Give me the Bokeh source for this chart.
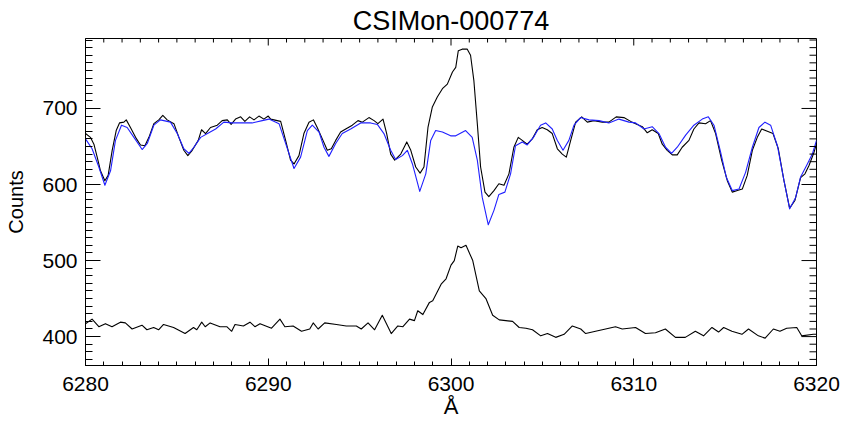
from bokeh.plotting import figure
from bokeh.models import FixedTicker, Range1d
from bokeh.embed import file_html
from bokeh.resources import INLINE

# ---- data ----
obs_wl = [6280.00, 6280.27, 6280.46, 6280.64, 6280.82, 6281.06, 6281.24, 6281.46, 6281.68, 6281.86,
          6282.10, 6282.23, 6282.46, 6282.74, 6283.01, 6283.25, 6283.47, 6283.74, 6284.01, 6284.23,
          6284.47, 6284.84, 6285.11, 6285.38, 6285.60, 6285.84, 6286.17, 6286.35, 6286.57, 6286.84,
          6287.21, 6287.48, 6287.76, 6287.97, 6288.21, 6288.49, 6288.72, 6288.98, 6289.22, 6289.49,
          6289.76, 6290.00, 6290.13, 6290.49, 6290.68, 6290.95, 6291.22, 6291.41, 6291.68, 6291.95,
          6292.23, 6292.47, 6292.68, 6292.96, 6293.23, 6293.45, 6293.69, 6293.96, 6294.24, 6294.60,
          6294.91, 6295.15, 6295.51, 6295.79, 6296.00, 6296.28, 6296.48, 6296.70, 6296.92, 6297.25,
          6297.58, 6297.80, 6298.07, 6298.31, 6298.52, 6298.74, 6298.98, 6299.25, 6299.53, 6299.80,
          6300.08, 6300.26, 6300.40, 6300.61, 6300.89, 6301.07, 6301.25, 6301.44, 6301.62, 6301.86,
          6302.07, 6302.35, 6302.62, 6302.90, 6303.17, 6303.44, 6303.68, 6303.90, 6304.17, 6304.45,
          6304.72, 6304.99, 6305.27, 6305.54, 6305.82, 6306.09, 6306.31, 6306.55, 6306.82, 6307.15,
          6307.46, 6307.82, 6308.28, 6308.64, 6309.04, 6309.46, 6309.83, 6310.10, 6310.47, 6310.74,
          6311.01, 6311.34, 6311.56, 6311.83, 6312.11, 6312.38, 6312.65, 6313.02, 6313.29, 6313.57,
          6313.93, 6314.20, 6314.48, 6314.81, 6315.12, 6315.39, 6315.67, 6315.94, 6316.21, 6316.49,
          6316.76, 6317.00, 6317.31, 6317.62, 6317.91, 6318.22, 6318.53, 6318.82, 6319.13, 6319.37,
          6319.59, 6319.86, 6320.00]
obs_counts = [667, 662, 653, 636, 618, 605, 612, 645, 671, 681,
              682, 685, 675, 662, 652, 651, 662, 680, 685, 691,
              685, 680, 662, 645, 638, 645, 658, 672, 667, 675,
              678, 684, 685, 679, 686, 689, 683, 689, 685, 690,
              686, 690, 686, 684, 683, 658, 632, 627, 638, 667,
              682, 685, 675, 660, 645, 647, 658, 669, 673, 678,
              684, 682, 688, 684, 680, 686, 667, 640, 632, 640,
              656, 645, 623, 615, 623, 675, 702, 715, 726, 732,
              748, 754, 776, 778, 778, 770, 737, 680, 623, 590,
              584, 592, 601, 599, 614, 649, 662, 658, 653, 660,
              672, 675, 672, 667, 647, 640, 636, 658, 682, 689,
              682, 684, 682, 682, 689, 688, 683, 680, 676, 668,
              672, 667, 653, 645, 639, 639, 649, 658, 673, 681,
              680, 684, 667, 632, 605, 590, 592, 594, 612, 645,
              662, 673, 670, 667, 647, 605, 569, 579, 609, 614,
              625, 642, 654]

model_wl = [6280.00, 6280.36, 6280.73, 6281.06, 6281.37, 6281.64, 6281.97, 6282.28, 6282.65, 6283.10,
            6283.38, 6283.74, 6284.10, 6284.65, 6285.02, 6285.38, 6285.66, 6285.93, 6286.30, 6286.75,
            6287.12, 6287.57, 6288.03, 6288.58, 6289.12, 6289.67, 6290.04, 6290.59, 6290.95, 6291.41,
            6291.77, 6292.14, 6292.41, 6292.78, 6293.05, 6293.32, 6293.69, 6294.05, 6294.51, 6295.06,
            6295.60, 6295.97, 6296.33, 6296.70, 6296.97, 6297.34, 6297.61, 6297.89, 6298.29, 6298.62,
            6298.89, 6299.16, 6299.53, 6299.98, 6300.26, 6300.80, 6301.16, 6301.44, 6301.71, 6302.04,
            6302.35, 6302.62, 6302.95, 6303.26, 6303.53, 6303.90, 6304.17, 6304.54, 6304.90, 6305.18,
            6305.54, 6305.82, 6306.13, 6306.45, 6306.73, 6307.09, 6307.55, 6308.10, 6308.64, 6309.19,
            6309.74, 6310.10, 6310.56, 6311.01, 6311.38, 6311.74, 6312.07, 6312.38, 6312.84, 6313.29,
            6313.75, 6314.08, 6314.39, 6314.75, 6315.06, 6315.39, 6315.76, 6316.12, 6316.49, 6316.85,
            6317.18, 6317.49, 6317.86, 6318.22, 6318.53, 6318.86, 6319.13, 6319.50, 6319.77, 6320.00]
model_counts = [660, 647, 623, 599, 618, 658, 678, 675, 662, 646,
                654, 678, 685, 682, 667, 647, 641, 649, 662, 668,
                673, 682, 681, 681, 681, 684, 686, 680, 654, 621,
                636, 671, 678, 669, 649, 637, 654, 667, 673, 681,
                681, 679, 667, 645, 633, 638, 645, 627, 591, 614,
                658, 671, 669, 664, 664, 671, 662, 632, 583, 547,
                566, 587, 590, 614, 651, 656, 652, 663, 678, 681,
                673, 658, 645, 658, 678, 688, 685, 684, 681, 686,
                682, 681, 673, 676, 667, 649, 641, 649, 665, 678,
                686, 689, 678, 643, 610, 592, 594, 616, 649, 675,
                682, 678, 651, 605, 568, 583, 610, 627, 640, 658]

res_wl = [6280.00, 6280.36, 6280.73, 6281.09, 6281.45, 6281.91, 6282.18, 6282.55, 6283.09, 6283.36,
          6283.73, 6284.00, 6284.27, 6284.82, 6285.45, 6285.91, 6286.09, 6286.36, 6286.55, 6286.82,
          6287.36, 6287.73, 6288.00, 6288.18, 6288.64, 6289.00, 6289.27, 6289.55, 6290.18, 6290.64,
          6290.91, 6291.36, 6291.82, 6292.27, 6292.46, 6292.73, 6293.09, 6293.73, 6294.27, 6294.82,
          6295.09, 6295.46, 6295.82, 6296.24, 6296.73, 6297.09, 6297.37, 6297.73, 6298.00, 6298.18,
          6298.46, 6298.82, 6299.00, 6299.46, 6299.73, 6300.00, 6300.18, 6300.37, 6300.55, 6300.82,
          6301.19, 6301.55, 6301.91, 6302.28, 6302.64, 6303.00, 6303.37, 6303.73, 6304.10, 6304.46,
          6304.91, 6305.28, 6305.73, 6306.19, 6306.64, 6307.10, 6307.37, 6307.91, 6308.46, 6309.00,
          6309.37, 6310.10, 6310.64, 6311.19, 6311.73, 6312.28, 6312.82, 6313.37, 6313.82, 6314.28,
          6314.64, 6314.92, 6315.37, 6315.92, 6316.28, 6316.82, 6317.19, 6317.64, 6318.00, 6318.37,
          6318.92, 6319.19, 6319.83, 6320.00]
res_counts = [417, 423, 413, 417, 413, 419, 418, 410, 415, 409,
              412, 409, 416, 412, 404, 412, 409, 419, 413, 418,
              413, 413, 407, 416, 414, 419, 413, 417, 411, 423,
              413, 414, 407, 410, 418, 410, 418, 416, 414, 414,
              410, 418, 409, 428, 404, 414, 413, 423, 421, 434,
              429, 445, 447, 469, 476, 494, 500, 519, 517, 520,
              500, 460, 450, 428, 422, 421, 420, 412, 411, 409,
              401, 404, 399, 403, 414, 410, 404, 407, 410, 413,
              410, 412, 404, 405, 410, 399, 399, 407, 401, 412,
              406, 412, 407, 403, 410, 401, 398, 410, 407, 411,
              412, 401, 403, 403]

title_text = "CSIMon-000774"
x_major = [6280, 6290, 6300, 6310, 6320]
x_minor = list(range(6280, 6321))
y_major = [400, 500, 600, 700]
y_minor = list(range(370, 800, 10))

X0, X1 = 6280, 6320
Y0, Y1 = 362, 792
FONT = "Liberation Sans"

p = figure(width=850, height=425, output_backend="svg", toolbar_location=None,
           x_range=Range1d(X0, X1), y_range=Range1d(Y0, Y1),
           min_border_left=85, min_border_right=34, min_border_top=38, min_border_bottom=60,
           title=title_text)

p.title.text_font = FONT
p.title.text_font_size = "27px"
p.title.text_font_style = "normal"
p.title.text_color = "black"
p.title.align = "center"
p.title.standoff = 5
p.title.offset = 0

p.background_fill_color = "white"
p.border_fill_color = "white"
p.outline_line_color = "black"
p.outline_line_width = 1
p.grid.visible = False

p.line(obs_wl, obs_counts, line_color="black", line_width=1.1, line_join="round")
p.line(model_wl, model_counts, line_color="#2020ff", line_width=1.1, line_join="round")
p.line(res_wl, res_counts, line_color="black", line_width=1.1, line_join="round")

# ticks along the top and right edges (inward, IDL style), drawn as screen-length rays
x_minor_only = [t for t in x_minor if t not in x_major]
y_minor_only = [t for t in y_minor if t not in y_major]
p.ray(x=x_major, y=[Y1] * len(x_major), length=7, length_units="screen",
      angle=-90, angle_units="deg", line_color="black", line_width=1)
p.ray(x=x_minor_only, y=[Y1] * len(x_minor_only), length=4, length_units="screen",
      angle=-90, angle_units="deg", line_color="black", line_width=1)
p.ray(x=[X1] * len(y_major), y=y_major, length=15, length_units="screen",
      angle=180, angle_units="deg", line_color="black", line_width=1)
p.ray(x=[X1] * len(y_minor_only), y=y_minor_only, length=7, length_units="screen",
      angle=180, angle_units="deg", line_color="black", line_width=1)


def style(ax, ticker, major_len, minor_len):
    ax.ticker = ticker
    ax.major_tick_in = major_len
    ax.major_tick_out = 0
    ax.minor_tick_in = minor_len
    ax.minor_tick_out = 0
    ax.axis_line_color = "black"
    ax.major_tick_line_color = "black"
    ax.minor_tick_line_color = "black"
    ax.major_label_text_font = FONT
    ax.major_label_text_color = "black"
    ax.axis_label_text_font = FONT
    ax.axis_label_text_font_style = "normal"
    ax.axis_label_text_color = "black"


xa = p.xaxis[0]
style(xa, FixedTicker(ticks=x_major, minor_ticks=x_minor), 7, 4)
xa.major_label_text_font_size = "21px"
xa.major_label_standoff = 11
xa.axis_label = "Å"
xa.axis_label_text_font_size = "22px"
xa.axis_label_standoff = 0

ya = p.yaxis[0]
style(ya, FixedTicker(ticks=y_major, minor_ticks=y_minor), 15, 7)
ya.major_label_text_font_size = "21px"
ya.major_label_standoff = 8
ya.major_label_orientation = "horizontal"
ya.axis_label = "Counts"
ya.axis_label_text_font_size = "20px"
ya.axis_label_standoff = 12

open("out.html", "w").write(file_html(p, INLINE))
